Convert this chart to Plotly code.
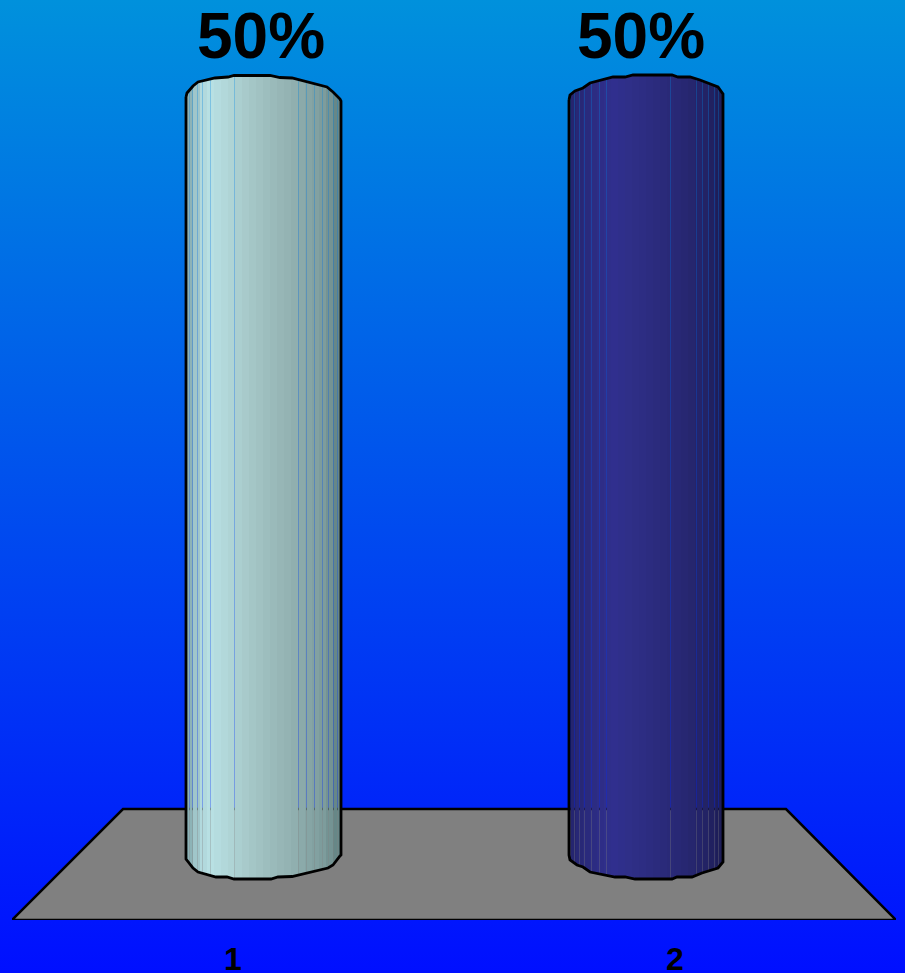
import numpy as np
import plotly.graph_objects as go

# ---- data ----
categories = ["1", "2"]
values = [50, 50]
value_labels = ["50%", "50%"]

# ---- styling and geometry (page pixels) ----
W, H = 905, 973
FRONT_L, FRONT_R, FRONT_Y = 12, 896, 920
BACK_L, BACK_R, BACK_Y = 123, 786, 809
ZERO_Y = 858
PX_PER_UNIT = 15.14
LABEL_CENTRES = [261, 641]
LABEL_Y = 42

def x_of(px):
    return 0.5 + (np.asarray(px, dtype=float) - FRONT_L) / ((FRONT_R - FRONT_L) / 2)

def y_of(py):
    return (ZERO_Y - np.asarray(py, dtype=float)) / PX_PER_UNIT

top_profiles = [
    [(186, 97), (187, 93), (193, 86), (198, 82), (215, 78), (228, 77), (234, 75.5),
     (270, 75.5), (280, 77.5), (292, 78), (327, 87), (333, 92), (340, 99), (341, 101)],
    [(569, 100), (570, 95), (575, 91), (583, 88), (590, 83), (613, 77), (625, 77),
     (633, 75), (672, 75), (678, 77), (690, 77), (700, 80), (718, 87), (723, 94)],
]
bottom_profiles = [
    [(186, 859), (193, 868), (198, 872), (216, 877), (227, 877), (234, 879), (271, 879),
     (278, 877), (292, 876.5), (328, 868), (333, 865), (340, 856), (341, 855)],
    [(569, 855), (570, 860), (577, 865), (583, 867), (590, 872), (615, 877), (625, 877),
     (635, 879), (672, 879), (677, 877), (692, 877), (702, 873), (718, 868), (723, 862)],
]
seam_px = [
    [189, 192, 197, 202, 210, 234, 298, 306, 314, 322, 328, 333, 337],
    [570, 574, 579, 584, 591, 599, 606, 670, 696, 702, 708, 714, 718],
]
shade_stops = [
    [(186, (120, 160, 165)), (190, (144, 182, 186)), (200, (170, 208, 212)), (207, (186, 226, 230)),
     (215, (183, 222, 225)), (230, (176, 213, 215)), (250, (166, 200, 200)), (270, (156, 188, 188)),
     (290, (147, 178, 178)), (310, (134, 165, 165)), (325, (124, 155, 155)), (341, (96, 128, 128))],
    [(569, (36, 36, 108)), (590, (44, 44, 128)), (612, (49, 48, 143)), (630, (47, 47, 136)),
     (660, (43, 43, 124)), (690, (39, 39, 112)), (715, (33, 33, 95)), (723, (29, 29, 86))],
]
BAND = 7

fig = go.Figure()

# page gradient
fig.add_trace(go.Scatter(
    x=[0, 1, 1, 0, 0], y=[0, 0, 1, 1, 0], xaxis="x", yaxis="y", mode="lines",
    line=dict(width=0), fill="toself", hoverinfo="skip", showlegend=False,
    fillgradient=dict(type="vertical",
                      colorscale=[[0, "rgb(0,15,255)"], [1, "rgb(0,145,220)"]]),
))

# cylinders as columns of bars
for i, v in enumerate(values):
    tx, ty = zip(*top_profiles[i])
    bx, by = zip(*bottom_profiles[i])
    left, right = tx[0], tx[-1]
    cols = np.arange(left, right)
    stops_x = [s[0] for s in shade_stops[i]]
    colours, opac = [], []
    for c in cols:
        q = left + (c - left) // BAND * BAND + BAND / 2
        rgb = [np.interp(q, stops_x, [s[1][k] for s in shade_stops[i]]) for k in range(3)]
        colours.append("rgb(%d,%d,%d)" % tuple(rgb))
        opac.append(0.68 if c in seam_px[i] else 1.0)
    centres = cols + 0.5
    # rim height on the value scale: the value sets the cylinder's side height
    tops = y_of(np.interp(centres, tx, ty)) + (v - 50)
    bots = y_of(np.interp(centres, bx, by))
    fig.add_trace(go.Bar(
        x=x_of(centres), y=tops - bots, base=bots, width=[2 / (FRONT_R - FRONT_L)] * len(cols),
        xaxis="x2", yaxis="y2", marker=dict(color=colours, opacity=opac, line=dict(width=0)),
        hoverinfo="skip", showlegend=False,
    ))
    # outline
    ox = list(tx) + list(bx[::-1]) + [tx[0]]
    oy = list(ty) + list(by[::-1]) + [ty[0]]
    fig.add_trace(go.Scatter(
        x=x_of(ox), y=y_of(oy), xaxis="x2", yaxis="y2", mode="lines",
        line=dict(color="black", width=2.8), hoverinfo="skip", showlegend=False, cliponaxis=False,
    ))

# value labels
fig.add_trace(go.Scatter(
    x=x_of(LABEL_CENTRES), y=y_of([LABEL_Y] * len(values)), text=value_labels, mode="text",
    textposition="middle center", xaxis="x2", yaxis="y2", cliponaxis=False,
    textfont=dict(family="Liberation Sans", size=64, color="black", weight=700),
    hoverinfo="skip", showlegend=False,
))

fig.update_layout(
    width=W, height=H, margin=dict(l=0, r=0, t=0, b=0), autosize=False,
    paper_bgcolor="#0050ee", plot_bgcolor="rgba(0,0,0,0)", showlegend=False, barmode="overlay",
    xaxis=dict(domain=[0, 1], range=[0, 1], visible=False, fixedrange=True),
    yaxis=dict(domain=[0, 1], range=[0, 1], visible=False, fixedrange=True),
    xaxis2=dict(domain=[FRONT_L / W, FRONT_R / W], range=[0.5, 2.5], anchor="y2",
                tickmode="array", tickvals=[1, 2], ticktext=categories, showgrid=False,
                zeroline=False, showline=False, ticks="outside", ticklen=11,
                tickcolor="rgba(0,0,0,0)", automargin=False,
                tickfont=dict(family="Liberation Sans", size=32, color="black", weight=700)),
    yaxis2=dict(domain=[(H - FRONT_Y) / H, 1], range=[float(y_of(FRONT_Y)), float(y_of(0))],
                anchor="x2", visible=False, showgrid=False, zeroline=False),
    shapes=[dict(
        type="path", xref="x2", yref="y2", layer="below",
        path="M %f,%f L %f,%f L %f,%f L %f,%f Z" % (
            x_of(FRONT_L), y_of(FRONT_Y), x_of(BACK_L), y_of(BACK_Y),
            x_of(BACK_R), y_of(BACK_Y), x_of(FRONT_R), y_of(FRONT_Y)),
        fillcolor="#808080", line=dict(color="black", width=2.5),
    )],
)

fig.write_html("out.html", config={"displayModeBar": False},
               post_script="document.body.style.margin='0';document.body.style.overflow='hidden';")
